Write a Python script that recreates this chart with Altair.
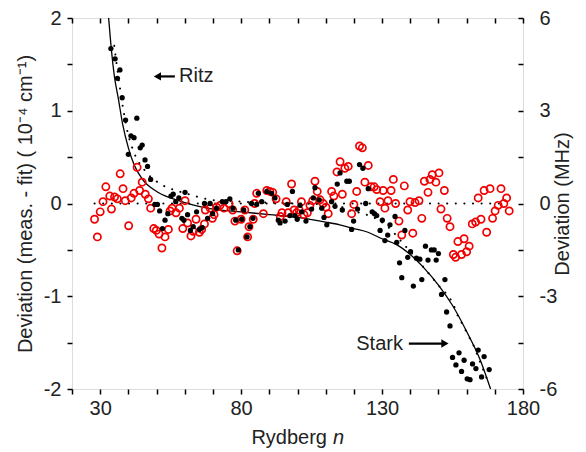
import altair as alt
import pandas as pd

# ---------------- data ----------------
black_n = [33.8, 35.3, 36.1, 37.0, 37.8, 39.0, 40.0, 40.9, 42.0, 43.0, 44.2, 44.9, 45.9, 46.8, 47.9,
           49.4, 50.3, 51.1, 52.1, 53.0, 54.0, 55.1, 55.9, 56.8, 57.9, 59.0, 59.7, 60.1, 61.0, 62.0,
           63.0, 64.2, 65.2, 66.2, 67.0, 68.1, 69.0, 69.9, 71.3, 73.3, 74.6, 76.0, 77.1, 78.1, 79.0,
           80.2, 80.9, 82.1, 83.1, 83.7, 84.2, 85.5, 86.1, 87.3, 89.1, 90.8, 92.0, 93.2, 93.8, 95.6,
           96.4, 97.3, 98.2, 99.1, 99.9, 100.9, 101.5, 103.0, 105.0, 105.6, 106.2, 107.7, 108.6, 109.4,
           110.4, 112.1, 113.3, 114.1, 115.1, 115.9, 117.5, 118.4, 119.2, 119.9, 121.3, 122.0, 123.2,
           124.2, 125.1, 126.5, 127.3, 128.1, 129.3, 130.1, 131.0, 132.0, 132.8, 134.6, 135.2, 136.2,
           137.0, 138.1, 139.1, 140.1, 141.1, 142.2, 143.4, 144.1, 145.4, 146.3, 147.5, 148.5, 149.2,
           150.0, 151.1, 152.3, 152.9, 154.1, 155.0, 156.2, 157.3, 158.2, 159.1, 160.2, 161.2, 162.1,
           163.3, 164.1, 165.3, 166.2, 168.0]
black_dev = [1.67, 1.56, 1.35, 1.44, 1.14, 0.90, 0.53, 0.73, 0.71, 0.92, 0.60, 0.63, 0.47, 0.40, 0.26,
             -0.01, -0.01, -0.08, -0.27, -0.18, -0.11, 0.08, 0.10, 0.02, 0.06, -0.16, -0.18, 0.12, -0.12, -0.29,
             -0.25, -0.09, -0.28, -0.26, 0.00, -0.16, 0.00, -0.11, -0.05, 0.02, 0.02, 0.05, -0.05, -0.18, -0.50,
             -0.17, -0.07, -0.36, -0.25, 0.00, -0.16, -0.01, 0.11, 0.02, 0.13, 0.11, 0.06, -0.18, -0.21, -0.19,
             -0.01, -0.13, 0.13, -0.13, -0.17, -0.02, -0.09, -0.19, -0.06, 0.06, 0.17, 0.04, -0.05, -0.15,
             -0.23, 0.02, -0.03, 0.21, 0.33, -0.07, 0.24, 0.24, -0.28, -0.19, -0.06, 0.42, 0.38,
             0.00, 0.16, -0.09, -0.11, -0.13, -0.29, -0.18, -0.40, -0.34, -0.23, -0.14, -0.42, -0.64,
             -0.80, -0.29, -0.58, -0.52, -0.89, -0.59, -0.60, -0.82, -0.46, -0.61, -0.50, -0.50, -0.61,
             -0.54, -0.98, -0.82, -1.17, -1.32, -1.66, -1.74, -1.61, -1.81, -1.69, -1.89, -1.90, -1.73,
             -1.78, -1.58, -1.87, -1.65, -1.79]

red_n = [28.0, 29.0, 30.0, 31.0, 32.0, 33.4, 34.0, 35.1, 36.1, 37.1, 38.1, 38.9, 40.1, 41.0, 42.0,
         43.1, 44.0, 44.9, 46.0, 47.1, 47.9, 49.0, 49.9, 50.9, 51.9, 53.0, 54.2, 54.8, 55.5, 56.9,
         58.1, 59.3, 60.1, 61.0, 62.2, 63.0, 64.0, 65.2, 66.0, 67.0, 67.3, 69.0, 69.8, 70.4, 71.3,
         72.5, 73.9, 75.7, 77.0, 77.8, 78.6, 80.0, 81.3, 82.3, 82.8, 84.3, 84.8, 85.5, 87.9, 89.1,
         90.2, 91.2, 92.4, 93.9, 94.5, 96.0, 96.7, 97.9, 98.8, 99.7, 100.6, 101.4, 102.3, 103.5,
         104.4, 105.4, 106.2, 107.0, 108.0, 109.1, 110.1, 110.9, 112.1, 112.9, 114.0, 115.1, 115.9,
         116.8, 118.0, 119.2, 120.0, 121.0, 122.0, 123.0, 123.9, 125.1, 126.1, 127.2, 128.1, 129.3,
         130.4, 131.0, 132.1, 133.2, 134.0, 134.8, 136.0, 137.0, 137.9, 139.1, 139.9, 140.9, 141.7,
         143.1, 144.1, 145.0, 146.3, 147.0, 147.8, 149.1, 150.2, 150.9, 152.1, 153.1, 154.1, 155.3,
         156.1, 156.9, 158.2, 159.1, 160.0, 160.9, 162.0, 163.2, 164.1, 165.1, 166.2, 167.1, 168.3,
         169.2, 170.1, 171.2, 172.2, 173.2, 174.2, 175.1]
red_dev = [-0.17, -0.36, -0.09, 0.02, 0.18, 0.08, -0.06, 0.07, 0.05, 0.32, 0.16, 0.03, -0.24, 0.06, 0.11,
           0.39, 0.14, 0.23, 0.10, 0.05, -0.05, -0.27, -0.29, -0.33, -0.48, -0.36, -0.28, -0.08, -0.05, -0.10,
           -0.05, -0.27, 0.03, -0.21, -0.35, -0.30, -0.17, -0.31, -0.28, -0.22, -0.07, -0.05, -0.16, -0.12, -0.04,
           -0.02, -0.05, 0.00, -0.07, -0.19, -0.51, -0.17, -0.07, -0.36, -0.25, -0.17, 0.00, 0.11, -0.11, 0.14,
           0.13, 0.12, 0.05, -0.14, -0.10, 0.02, -0.10, 0.21, -0.07, -0.10, -0.07, 0.02, -0.12, -0.10,
           -0.02, 0.03, 0.24, 0.13, 0.04, 0.00, -0.04, -0.11, 0.13, 0.08, 0.34, 0.45, 0.10,
           0.38, 0.40, -0.11, -0.01, 0.13, 0.62, 0.60, 0.23, 0.41, 0.18, 0.18, 0.15, 0.02,
           0.14, -0.05, 0.03, 0.14, 0.26, 0.00, -0.19, -0.34, 0.19, -0.07, 0.02, -0.32, 0.01,
           0.03, -0.16, 0.24, 0.12, 0.26, 0.31, 0.23, 0.33, -0.06, 0.14, -0.16, -0.25, -0.55,
           -0.58, -0.41, -0.55, -0.38, -0.52, -0.46, -0.22, -0.20, 0.06, -0.17, 0.14, -0.31, 0.16,
           -0.16, -0.08, -0.02, 0.16, 0.00, 0.06, -0.08]

fit_n = [33.0, 34.0, 35.0, 36.5, 38.0, 40.0, 42.0, 45.0, 50.0, 55.0, 60.0, 65.0, 70.0, 80.0, 90.0,
         100.0, 110.0, 115.0, 120.0, 125.0, 130.0, 135.0, 140.0, 145.0, 150.0, 155.0, 160.0, 165.0, 168.5]
fit_dev = [2.0, 1.65, 1.38, 1.12, 0.85, 0.60, 0.42, 0.26, 0.13, 0.06, 0.01, -0.03, -0.06, -0.09, -0.12,
           -0.15, -0.20, -0.23, -0.27, -0.31, -0.38, -0.44, -0.55, -0.70, -0.88, -1.10, -1.38, -1.70, -2.0]

alt_fit_n = [35.0, 37.0, 39.5, 42.0, 46.0, 52.0, 58.0, 62.5, 66.0, 72.0, 80.0, 90.0, 100.0, 110.0,
             115.0, 118.0, 122.0, 127.0, 132.0, 138.0, 144.0, 147.5, 150.5, 153.0, 155.3, 157.0, 158.7,
             160.5, 162.3, 164.0, 166.0, 168.0]
alt_fit_dev = [1.70, 1.25, 0.80, 0.55, 0.35, 0.20, 0.13, 0.09, 0.06, 0.03, 0.02, 0.01, 0.00, -0.01,
               -0.03, -0.07, -0.10, -0.15, -0.25, -0.45, -0.66, -0.79, -0.90, -0.98, -1.09, -1.22, -1.31,
               -1.42, -1.52, -1.65, -1.80, -1.95]

zero_n = [28.0, 174.0]
zero_dev = [0.0, 0.0]

label_text = ["Ritz", "Stark"]
label_n = [58.0, 137.4]
label_dev = [1.37, -1.51]
label_align = ["left", "right"]

arrow_start = [50.0, 139.5]
arrow_end = [56.5, 152.0]
arrow_dev = [1.37, -1.51]
head_n = [50.3, 152.3]
head_shape = ["triangle-left", "triangle-right"]

x_ticks = [20, 30, 40, 50, 60, 70, 80, 90, 100, 110, 120, 130, 140, 150, 160, 170, 180]
y_ticks = [-2, -1.5, -1, -0.5, 0, 0.5, 1, 1.5, 2]

LEFT_TITLE = "Deviation (meas. - fit)  ( 10\u207b\u2074 cm\u207b\u00b9)"
RIGHT_TITLE = "Deviation (MHz)"

INK = "#222222"
RED = "#f00000"
FS = 20

# ---------------- scales & axes ----------------
xs = alt.Scale(domain=[20, 180], nice=False, zero=False)
ys = alt.Scale(domain=[-2, 2], nice=False, zero=False)

x_axis = alt.Axis(orient="bottom", values=x_ticks,
                  labelExpr="(datum.value - 30) % 50 == 0 ? '' + datum.value : ''",
                  tickSize=5, tickWidth=1.5, tickColor="black", domain=False, grid=False,
                  labelFontSize=FS, labelPadding=4, labelFlush=False, labelOverlap=False,
                  labelColor=INK, title=None)
y_axis = alt.Axis(orient="left", values=y_ticks,
                  labelExpr="datum.value % 1 == 0 ? '' + datum.value : ''",
                  tickSize=5, tickWidth=1.5, tickColor="black", domain=False, grid=False,
                  labelFontSize=FS, labelPadding=6, labelFlush=False, labelOverlap=False,
                  labelColor=INK, title=LEFT_TITLE, titleFontSize=FS, titleFontWeight="normal",
                  titleColor=INK, titlePadding=8)
top_axis = alt.Axis(orient="top", values=x_ticks, labels=False, tickSize=5, tickWidth=1.5,
                    tickColor="black", domain=False, grid=False, offset=-5, title=None)
right_axis = alt.Axis(orient="right", values=y_ticks,
                      labelExpr="datum.value % 1 == 0 ? '' + (datum.value * 3) : ''",
                      tickSize=5, tickWidth=1.5, tickColor="black", domain=False, grid=False,
                      offset=-5, labelFontSize=FS, labelPadding=16, labelFlush=False,
                      labelOverlap=False, labelColor=INK, title=RIGHT_TITLE, titleFontSize=FS,
                      titleFontWeight="normal", titleColor=INK, titleAngle=270, titlePadding=16)

X = alt.X("n:Q", scale=xs, axis=x_axis)
Y = alt.Y("dev:Q", scale=ys, axis=y_axis)

# ---------------- frames ----------------
black_df = pd.DataFrame({"n": black_n, "dev": black_dev})
red_df = pd.DataFrame({"n": red_n, "dev": red_dev})
fit_df = pd.DataFrame({"n": fit_n, "dev": fit_dev})
alt_df = pd.DataFrame({"n": alt_fit_n, "dev": alt_fit_dev})
zero_df = pd.DataFrame({"n": zero_n, "dev": zero_dev})
lab_df = pd.DataFrame({"n": label_n, "dev": label_dev, "t": label_text, "a": label_align})
arr_df = pd.DataFrame({"n": arrow_start, "n2": arrow_end, "dev": arrow_dev})
head_df = pd.DataFrame({"n": head_n, "dev": arrow_dev, "shape": head_shape})

dotted = dict(color="black", strokeWidth=2, strokeDash=[0.1, 8.5], strokeCap="round", clip=True)

zero_line = alt.Chart(zero_df).mark_line(**dotted).encode(x=X, y=Y)
alt_line = alt.Chart(alt_df).mark_line(interpolate="monotone", **dotted).encode(x=X, y=Y)
fit_line = alt.Chart(fit_df).mark_line(color="black", strokeWidth=1.3, interpolate="monotone",
                                       clip=True).encode(x=X, y=Y)
red_pts = alt.Chart(red_df).mark_point(shape="circle", filled=False, color=RED, size=52,
                                       strokeWidth=1.7, opacity=1).encode(x=X, y=Y)
black_pts = alt.Chart(black_df).mark_circle(color="black", size=28, opacity=1).encode(x=X, y=Y)

ritz_txt = alt.Chart(lab_df.iloc[[0]]).mark_text(align="left", baseline="middle", fontSize=FS,
                                                 color=INK).encode(x=X, y=Y, text="t:N")
stark_txt = alt.Chart(lab_df.iloc[[1]]).mark_text(align="right", baseline="middle", fontSize=FS,
                                                  color=INK).encode(x=X, y=Y, text="t:N")
shafts = alt.Chart(arr_df).mark_rule(color="black", strokeWidth=2.2).encode(
    x=X, x2="n2:Q", y=Y)
heads = alt.Chart(head_df).mark_point(filled=True, color="black", size=70, opacity=1).encode(
    x=X, y=Y, shape=alt.Shape("shape:N", scale=None))

xt1 = alt.Chart(pd.DataFrame({"t": ["Rydberg"]})).mark_text(
    align="right", baseline="middle", fontSize=FS, color=INK).encode(
    text="t:N", x=alt.value(255), y=alt.value(420))
xt2 = alt.Chart(pd.DataFrame({"t": ["n"]})).mark_text(
    align="left", baseline="middle", fontSize=FS, fontStyle="italic", color=INK).encode(
    text="t:N", x=alt.value(261), y=alt.value(420))

main = alt.layer(zero_line, alt_line, fit_line, red_pts, black_pts, shafts, heads,
                 ritz_txt, stark_txt, xt1, xt2)

frame = alt.Chart(zero_df).mark_point(opacity=0).encode(
    x=alt.X("n:Q", scale=xs, axis=top_axis),
    y=alt.Y("dev:Q", scale=ys, axis=right_axis))

chart = (alt.layer(main, frame)
         .resolve_axis(x="independent", y="independent")
         .properties(width=451, height=371,
                     padding={"left": 64, "top": 10, "right": 55, "bottom": 62},
                     autosize=alt.AutoSizeParams(type="none"))
         .configure_view(stroke="black", strokeWidth=1.6)
         .configure(font="Liberation Sans"))

chart.save("out.html", embed_options={"renderer": "svg", "actions": False})
